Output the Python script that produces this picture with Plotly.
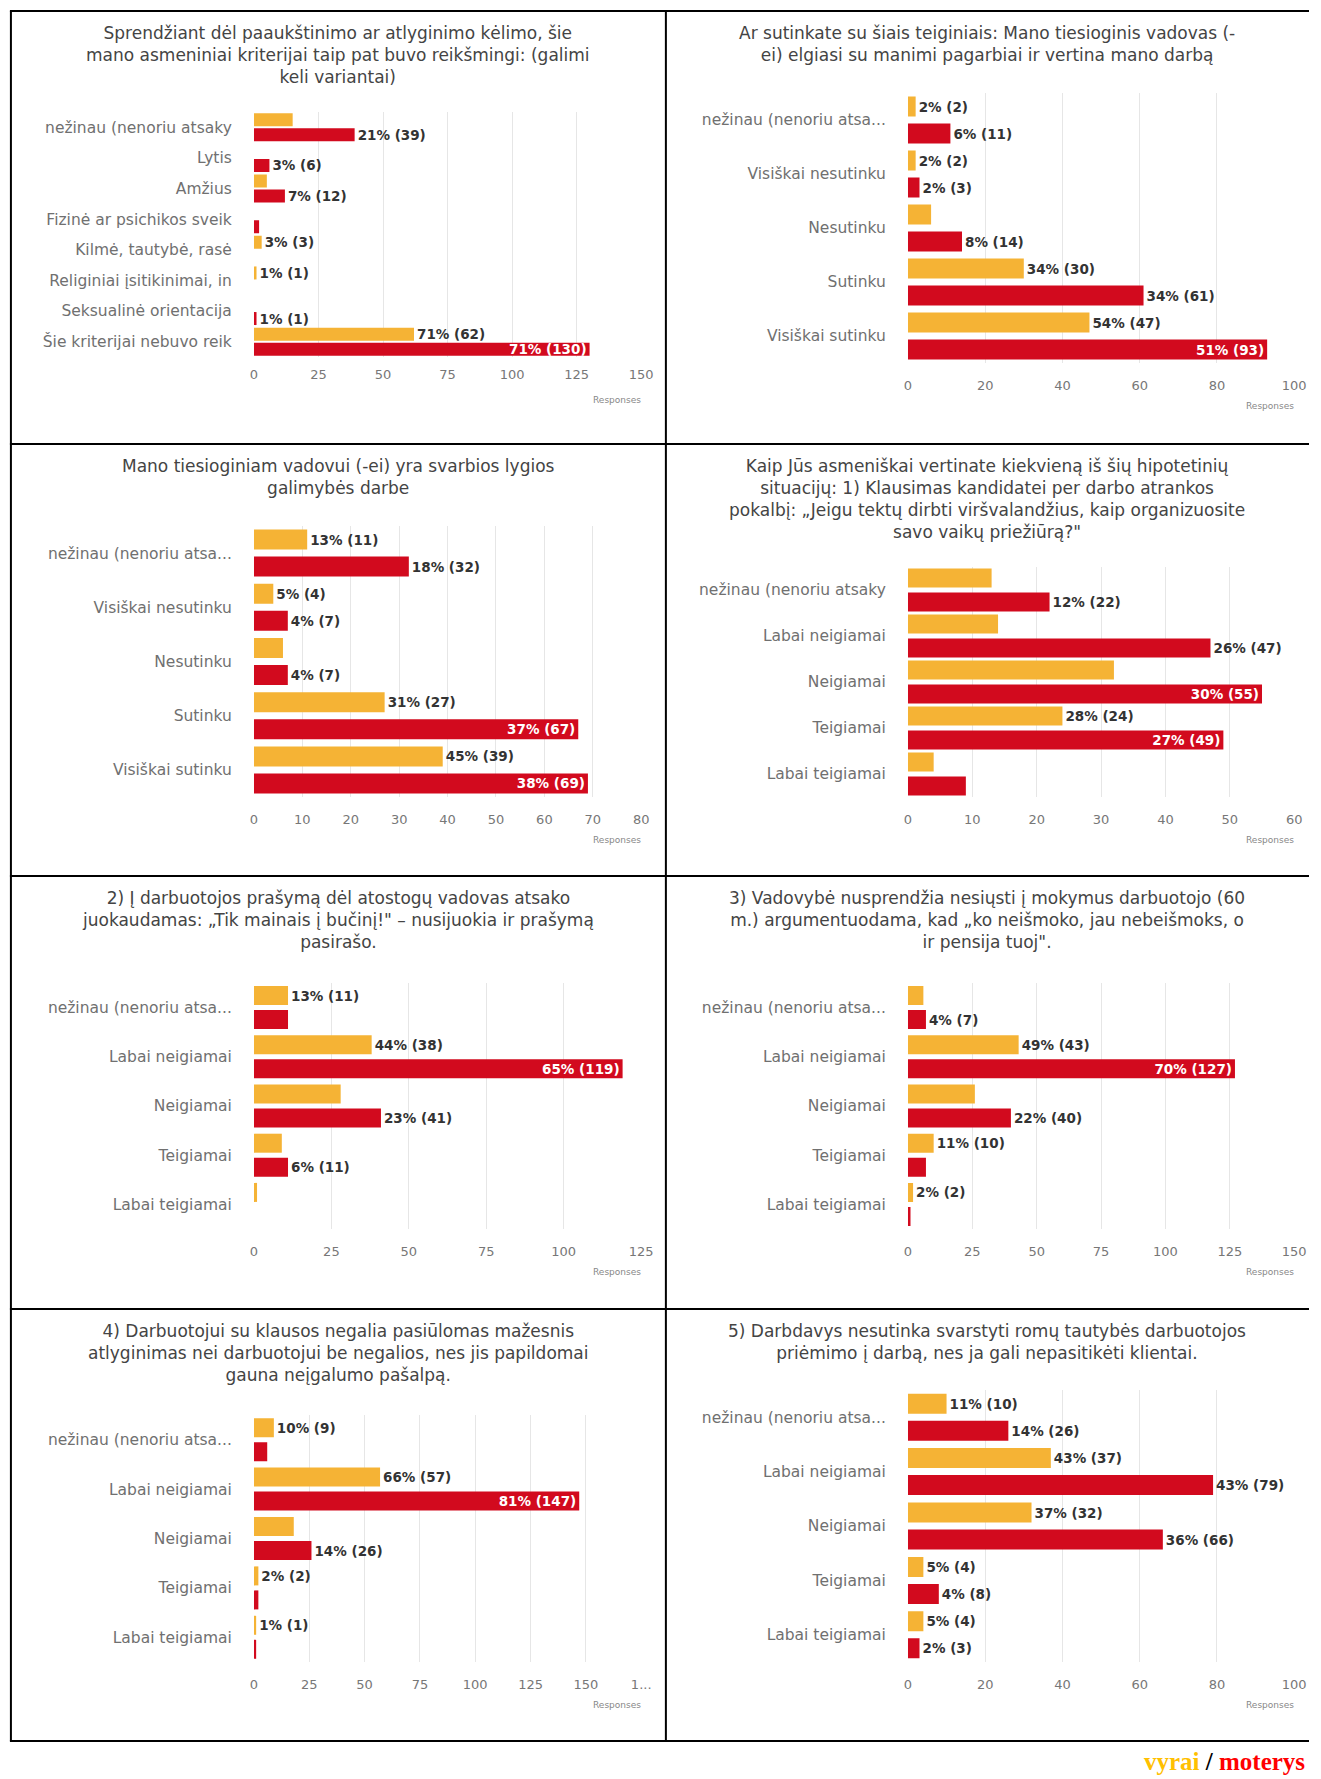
import plotly.graph_objects as go

W, H = 1321, 1779
YELLOW = "#F5B335"
RED = "#D20A1E"

# ---------------- data ----------------
titles = [
    "Sprendžiant dėl paaukštinimo ar atlyginimo kėlimo, šie<br>mano asmeniniai kriterijai taip pat buvo reikšmingi: (galimi<br>keli variantai)",
    "Ar sutinkate su šiais teiginiais: Mano tiesioginis vadovas (-<br>ei) elgiasi su manimi pagarbiai ir vertina mano darbą",
    "Mano tiesioginiam vadovui (-ei) yra svarbios lygios<br>galimybės darbe",
    "Kaip Jūs asmeniškai vertinate kiekvieną iš šių hipotetinių<br>situacijų: 1) Klausimas kandidatei per darbo atrankos<br>pokalbį: „Jeigu tektų dirbti viršvalandžius, kaip organizuosite<br>savo vaikų priežiūrą?\"",
    "2) Į darbuotojos prašymą dėl atostogų vadovas atsako<br>juokaudamas: „Tik mainais į bučinį!\" – nusijuokia ir prašymą<br>pasirašo.",
    "3) Vadovybė nusprendžia nesiųsti į mokymus darbuotojo (60<br>m.) argumentuodama, kad „ko neišmoko, jau nebeišmoks, o<br>ir pensija tuoj\".",
    "4) Darbuotojui su klausos negalia pasiūlomas mažesnis<br>atlyginimas nei darbuotojui be negalios, nes jis papildomai<br>gauna neįgalumo pašalpą.",
    "5) Darbdavys nesutinka svarstyti romų tautybės darbuotojos<br>priėmimo į darbą, nes ja gali nepasitikėti klientai.",
]

cats_criteria = ["nežinau (nenoriu atsaky", "Lytis", "Amžius", "Fizinė ar psichikos sveik",
                 "Kilmė, tautybė, rasė", "Religiniai įsitikinimai, in", "Seksualinė orientacija",
                 "Šie kriterijai nebuvo reik"]
cats_agree = ["nežinau (nenoriu atsa...", "Visiškai nesutinku", "Nesutinku", "Sutinku", "Visiškai sutinku"]
cats_eval_a = ["nežinau (nenoriu atsaky", "Labai neigiamai", "Neigiamai", "Teigiamai", "Labai teigiamai"]
cats_eval_b = ["nežinau (nenoriu atsa...", "Labai neigiamai", "Neigiamai", "Teigiamai", "Labai teigiamai"]

# vyrai (men) / moterys (women) counts
men_1 = [15, 0, 5, 0, 3, 1, 0, 62]
women_1 = [39, 6, 12, 2, 0, 0, 1, 130]
men_1_lbl = ["", "", "", "", "3% (3)", "1% (1)", "", "71% (62)"]
women_1_lbl = ["21% (39)", "3% (6)", "7% (12)", "", "", "", "1% (1)", "71% (130)"]

men_2 = [2, 2, 6, 30, 47]
women_2 = [11, 3, 14, 61, 93]
men_2_lbl = ["2% (2)", "2% (2)", "", "34% (30)", "54% (47)"]
women_2_lbl = ["6% (11)", "2% (3)", "8% (14)", "34% (61)", "51% (93)"]

men_3 = [11, 4, 6, 27, 39]
women_3 = [32, 7, 7, 67, 69]
men_3_lbl = ["13% (11)", "5% (4)", "", "31% (27)", "45% (39)"]
women_3_lbl = ["18% (32)", "4% (7)", "4% (7)", "37% (67)", "38% (69)"]

men_4 = [13, 14, 32, 24, 4]
women_4 = [22, 47, 55, 49, 9]
men_4_lbl = ["", "", "", "28% (24)", ""]
women_4_lbl = ["12% (22)", "26% (47)", "30% (55)", "27% (49)", ""]

men_5 = [11, 38, 28, 9, 1]
women_5 = [11, 119, 41, 11, 0]
men_5_lbl = ["13% (11)", "44% (38)", "", "", ""]
women_5_lbl = ["", "65% (119)", "23% (41)", "6% (11)", ""]

men_6 = [6, 43, 26, 10, 2]
women_6 = [7, 127, 40, 7, 1]
men_6_lbl = ["", "49% (43)", "", "11% (10)", "2% (2)"]
women_6_lbl = ["4% (7)", "70% (127)", "22% (40)", "", ""]

men_7 = [9, 57, 18, 2, 1]
women_7 = [6, 147, 26, 2, 1]
men_7_lbl = ["10% (9)", "66% (57)", "", "2% (2)", "1% (1)"]
women_7_lbl = ["", "81% (147)", "14% (26)", "", ""]

men_8 = [10, 37, 32, 4, 4]
women_8 = [26, 79, 66, 8, 3]
men_8_lbl = ["11% (10)", "43% (37)", "37% (32)", "5% (4)", "5% (4)"]
women_8_lbl = ["14% (26)", "43% (79)", "36% (66)", "4% (8)", "2% (3)"]

# bars whose label sits inside (white)
women_inside = [
    [7], [4], [3, 4], [2, 3], [1], [1], [1], [],
]

ticks_150 = [0, 25, 50, 75, 100, 125, 150]
ticks_100 = [0, 20, 40, 60, 80, 100]
ticks_80 = [0, 10, 20, 30, 40, 50, 60, 70, 80]
ticks_60 = [0, 10, 20, 30, 40, 50, 60]
ticks_125 = [0, 25, 50, 75, 100, 125]
ticks_175 = [0, 25, 50, 75, 100, 125, 150, 175]
ticks_175_text = ["0", "25", "50", "75", "100", "125", "150", "1..."]

panels = [
    dict(cats=cats_criteria, men=men_1, women=women_1, ml=men_1_lbl, wl=women_1_lbl, ticks=ticks_150, tt=None),
    dict(cats=cats_agree, men=men_2, women=women_2, ml=men_2_lbl, wl=women_2_lbl, ticks=ticks_100, tt=None),
    dict(cats=cats_agree, men=men_3, women=women_3, ml=men_3_lbl, wl=women_3_lbl, ticks=ticks_80, tt=None),
    dict(cats=cats_eval_a, men=men_4, women=women_4, ml=men_4_lbl, wl=women_4_lbl, ticks=ticks_60, tt=None),
    dict(cats=cats_eval_b, men=men_5, women=women_5, ml=men_5_lbl, wl=women_5_lbl, ticks=ticks_125, tt=None),
    dict(cats=cats_eval_b, men=men_6, women=women_6, ml=men_6_lbl, wl=women_6_lbl, ticks=ticks_150, tt=None),
    dict(cats=cats_eval_b, men=men_7, women=women_7, ml=men_7_lbl, wl=women_7_lbl, ticks=ticks_175, tt=ticks_175_text),
    dict(cats=cats_eval_b, men=men_8, women=women_8, ml=men_8_lbl, wl=women_8_lbl, ticks=ticks_100, tt=None),
]

# ---------------- layout geometry (px) ----------------
row_tops = [11, 444, 876, 1309]
col_lefts = [7, 670]
col_rights = [670, 1321]
plot_x = [(253, 645), (915, 1306)]
plot_y = [(101, 346), (82, 352), (82, 353), (123, 353), (107, 353), (107, 353), (106, 353), (81, 353)]
bar_px = [13, 20, 20, 19, 19, 19, 19, 20]
gap_px = [2, 7, 7, 5, 5, 5, 5, 7]
tick_len = [5, 10, 10, 10, 10, 10, 10, 10]

LBL_FONT = "DejaVu Sans"

def fx(x):
    return x / W

def fy(y):
    return 1 - y / H

fig = go.Figure()
layout = dict(
    width=W, height=H, margin=dict(l=0, r=0, t=0, b=0), autosize=False,
    paper_bgcolor="white", plot_bgcolor="white", showlegend=False,
    barmode="overlay", font=dict(family="DejaVu Sans", color="#333"),
)
annotations = []
shapes = []

for i, p in enumerate(panels):
    r, c = divmod(i, 2)
    top = row_tops[r]
    x0, x1 = plot_x[c]
    ty0, ty1 = plot_y[i]
    n = len(p["cats"])
    slot = (ty1 - ty0) / n
    w = bar_px[i] / slot
    g = gap_px[i] / slot
    xa = "x" if i == 0 else f"x{i+1}"
    ya = "y" if i == 0 else f"y{i+1}"
    inside = women_inside[i]
    wpos = ["inside" if k in inside else "outside" for k in range(n)]
    ml = [f"<b>{t}</b>" if t else "" for t in p["ml"]]
    wl = [f"<b>{t}</b>" if t else "" for t in p["wl"]]
    fig.add_trace(go.Bar(
        y=p["cats"], x=p["men"], orientation="h", marker=dict(color=YELLOW, line=dict(width=0)),
        width=w, offset=-(w + g / 2), text=ml, textposition="outside",
        textfont=dict(size=13.5, color="#333", family=LBL_FONT), cliponaxis=False,
        constraintext="none", xaxis=xa, yaxis=ya, name="vyrai", hoverinfo="x+y",
    ))
    fig.add_trace(go.Bar(
        y=p["cats"], x=p["women"], orientation="h", marker=dict(color=RED, line=dict(width=0)),
        width=w, offset=g / 2, text=wl, textposition=wpos,
        insidetextfont=dict(size=13.5, color="white", family=LBL_FONT),
        outsidetextfont=dict(size=13.5, color="#333", family=LBL_FONT),
        insidetextanchor="end", cliponaxis=False, constraintext="none",
        xaxis=xa, yaxis=ya, name="moterys", hoverinfo="x+y",
    ))
    xkey = "xaxis" if i == 0 else f"xaxis{i+1}"
    ykey = "yaxis" if i == 0 else f"yaxis{i+1}"
    xd = dict(
        domain=[fx(x0), fx(x1)], anchor=ya, range=[0, p["ticks"][-1]],
        tickvals=p["ticks"], showgrid=True, gridcolor="#e6e6e6", gridwidth=1,
        zeroline=False, showline=False, ticks="outside", ticklen=tick_len[i],
        tickcolor="rgba(0,0,0,0)", tickfont=dict(size=13, color="#777"), fixedrange=True,
    )
    if p["tt"] is not None:
        xd["ticktext"] = p["tt"]
    layout[xkey] = xd
    layout[ykey] = dict(
        domain=[fy(top + ty1), fy(top + ty0)], anchor=xa, type="category",
        autorange="reversed", showgrid=False, zeroline=False, showline=False,
        ticks="outside", ticklen=18, tickcolor="rgba(0,0,0,0)",
        tickfont=dict(size=15.5, color="#707070"), fixedrange=True,
    )
    # title
    annotations.append(dict(
        x=fx((col_lefts[c] + col_rights[c]) / 2), y=fy(top + 10), xref="paper", yref="paper",
        xanchor="center", yanchor="top", text=titles[i], showarrow=False,
        font=dict(size=17, color="#444", family="DejaVu Sans"), align="center",
    ))
    # axis title
    annotations.append(dict(
        x=fx(x1 + 2), y=fy(top + ty1 + 43), xref="paper", yref="paper",
        xanchor="right", yanchor="middle", text="Responses", showarrow=False,
        font=dict(size=9, color="#888", family="DejaVu Sans"),
    ))

# frame lines
for yb in [11, 444, 876, 1309, 1741]:
    shapes.append(dict(type="line", xref="paper", yref="paper", x0=fx(6), x1=1,
                       y0=fy(yb), y1=fy(yb), line=dict(color="black", width=2)))
for xb in [7, 670]:
    shapes.append(dict(type="line", xref="paper", yref="paper", x0=fx(xb), x1=fx(xb),
                       y0=fy(11), y1=fy(1741), line=dict(color="black", width=2)))

annotations.append(dict(
    x=fx(1319), y=fy(1761), xref="paper", yref="paper", xanchor="right", yanchor="middle",
    text="<b><span style='color:#FFC000'>vyrai</span> / <span style='color:#FF0000'>moterys</span></b>",
    showarrow=False, font=dict(size=25, color="black", family="Liberation Serif"),
))

layout["annotations"] = annotations
layout["shapes"] = shapes
fig.update_layout(**layout)
fig.write_html("out.html", config={"displayModeBar": False},
               post_script="document.body.style.margin='0px';document.body.style.padding='0px';")
